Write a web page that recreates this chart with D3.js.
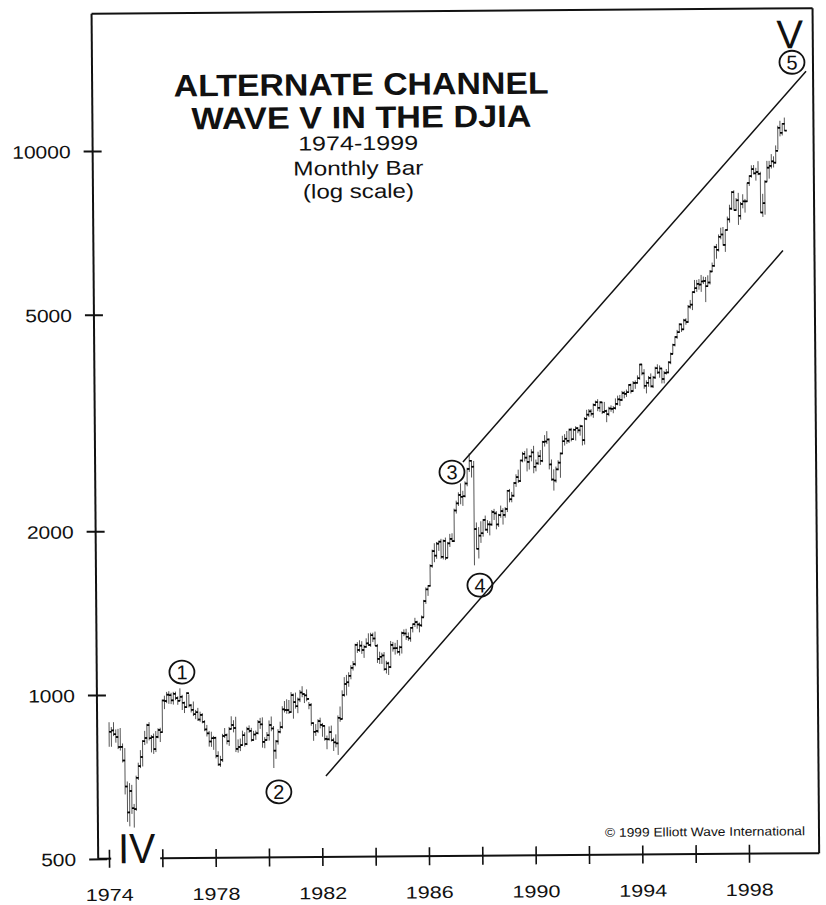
<!DOCTYPE html>
<html>
<head>
<meta charset="utf-8">
<script src="https://cdn.jsdelivr.net/npm/d3@7/dist/d3.min.js"></script>
<style>
  body { margin: 0; background: #fff; }
  svg { display: block; }
  text { font-family: "Liberation Sans", Arial, Helvetica, sans-serif; fill: #111; }
</style>
</head>
<body>
<svg id="chart" width="826" height="905"></svg>
<script>
// DJIA monthly bars, January 1974 onward
const startYear = 1974;

const monthClose = [
  855.55, 860.53, 846.68, 836.75, 802.17, 802.41, 757.43, 678.58, 607.87, 665.52, 618.66, 616.24,
  703.69, 739.05, 768.15, 821.34, 832.29, 878.99, 831.51, 835.34, 793.88, 836.04, 860.67, 852.41,
  975.28, 972.61, 999.45, 996.85, 975.23, 1002.78, 984.64, 973.74, 990.19, 964.93, 947.22, 1004.65,
  954.37, 936.42, 919.13, 926.90, 898.66, 916.30, 890.07, 861.49, 847.11, 818.35, 829.70, 831.17,
  769.92, 742.12, 757.36, 837.32, 840.61, 818.95, 862.27, 876.82, 865.82, 792.45, 799.03, 805.01,
  839.22, 808.82, 862.18, 854.90, 822.33, 841.98, 846.42, 887.63, 878.58, 815.70, 822.35, 838.74,
  875.85, 863.14, 785.75, 817.06, 850.85, 867.92, 935.32, 932.59, 932.42, 924.49, 993.34, 963.99,
  947.27, 974.58, 1003.87, 997.75, 991.75, 976.88, 952.34, 881.47, 849.98, 852.55, 888.98, 875.00,
  871.10, 824.39, 822.77, 848.36, 819.54, 811.93, 808.60, 901.31, 896.25, 991.72, 1039.28, 1046.54,
  1075.70, 1112.62, 1130.03, 1226.20, 1199.98, 1221.96, 1199.22, 1216.16, 1233.13, 1225.20, 1276.02, 1258.64,
  1220.58, 1154.63, 1164.89, 1170.75, 1104.85, 1132.40, 1115.28, 1224.38, 1206.71, 1207.38, 1188.94, 1211.57,
  1286.77, 1284.01, 1266.78, 1258.06, 1315.41, 1335.46, 1347.45, 1334.01, 1328.63, 1374.31, 1472.13, 1546.67,
  1570.99, 1709.06, 1818.61, 1783.98, 1876.71, 1892.72, 1775.31, 1898.34, 1767.58, 1877.81, 1914.23, 1895.95,
  2158.04, 2223.99, 2304.69, 2286.36, 2291.57, 2418.53, 2572.07, 2662.95, 2596.28, 1993.53, 1833.55, 1938.83,
  1958.22, 2071.62, 1988.06, 2032.33, 2031.12, 2141.71, 2128.73, 2031.65, 2112.91, 2148.65, 2114.51, 2168.57,
  2342.32, 2258.39, 2293.62, 2418.80, 2480.15, 2440.06, 2660.66, 2737.27, 2692.82, 2645.08, 2706.27, 2753.20,
  2590.54, 2627.25, 2707.21, 2656.76, 2876.66, 2880.69, 2905.20, 2614.36, 2452.48, 2442.33, 2559.65, 2633.66,
  2736.39, 2882.18, 2913.86, 2887.87, 3027.50, 2906.75, 3024.82, 3043.60, 3016.77, 3069.10, 2894.68, 3168.83,
  3223.39, 3267.67, 3235.47, 3359.12, 3396.88, 3318.52, 3393.78, 3257.35, 3271.66, 3226.28, 3305.16, 3301.11,
  3310.03, 3370.81, 3435.11, 3427.55, 3527.43, 3516.08, 3539.47, 3651.25, 3555.12, 3680.59, 3683.95, 3754.09,
  3978.36, 3832.02, 3635.96, 3681.69, 3758.37, 3624.96, 3764.50, 3913.42, 3843.19, 3908.12, 3739.23, 3834.44,
  3843.86, 4011.05, 4157.69, 4321.27, 4465.14, 4556.10, 4708.47, 4610.56, 4789.08, 4755.48, 5074.49, 5117.12,
  5395.30, 5485.62, 5587.14, 5569.08, 5643.18, 5654.63, 5528.91, 5616.21, 5882.17, 6029.38, 6521.70, 6448.27,
  6813.09, 6877.74, 6583.48, 7008.99, 7331.04, 7672.79, 8222.61, 7622.42, 7945.26, 7442.08, 7823.13, 7908.25,
  7906.50, 8545.72, 8799.81, 9063.37, 8899.95, 8952.02, 8883.29, 7539.07, 7842.62, 8592.10, 9116.55, 9181.43,
  9358.83, 9306.58, 9786.16, 10789.04, 10559.74, 10970.80, 10655.15
];

const monthHigh = [
  891, 873, 891, 864, 866, 869, 814, 798, 693, 688, 683, 630,
  710, 750, 791, 825, 858, 884, 890, 843, 848, 857, 867, 869,
  979, 995, 1011, 1014, 1007, 1011, 1012, 992, 1026, 998, 970, 1009,
  1000, 960, 970, 936, 944, 929, 923, 896, 878, 856, 853, 838,
  835, 785, 770, 845, 866, 846, 870, 910, 895, 908, 825, 828,
  856, 850, 870, 875, 866, 855, 856, 895, 903, 905, 832, 850,
  893, 908, 872, 822, 860, 888, 948, 969, 976, 973, 1006, 1000,
  1004, 983, 1015, 1031, 1000, 1017, 964, 960, 884, 878, 896, 902,
  882, 873, 836, 869, 872, 828, 840, 910, 945, 1012, 1070, 1080,
  1092, 1125, 1145, 1232, 1240, 1250, 1245, 1226, 1260, 1287, 1290, 1290,
  1296, 1230, 1190, 1185, 1188, 1145, 1140, 1245, 1240, 1235, 1250, 1220,
  1295, 1307, 1310, 1290, 1320, 1340, 1372, 1355, 1345, 1385, 1480, 1560,
  1575, 1720, 1830, 1880, 1890, 1900, 1915, 1910, 1925, 1890, 1955, 1960,
  2175, 2250, 2330, 2420, 2345, 2440, 2585, 2747, 2665, 2660, 2050, 2010,
  2060, 2080, 2110, 2070, 2060, 2160, 2170, 2150, 2125, 2200, 2175, 2185,
  2350, 2360, 2330, 2430, 2510, 2560, 2670, 2760, 2770, 2800, 2720, 2790,
  2830, 2670, 2760, 2780, 2890, 2960, 3010, 2920, 2670, 2560, 2590, 2660,
  2750, 2950, 2970, 3010, 3040, 3050, 3040, 3070, 3060, 3090, 3080, 3190,
  3290, 3300, 3300, 3380, 3420, 3440, 3410, 3400, 3400, 3290, 3330, 3350,
  3340, 3450, 3490, 3500, 3560, 3560, 3580, 3660, 3670, 3710, 3720, 3800,
  3990, 3990, 3900, 3720, 3790, 3830, 3790, 3940, 3980, 3960, 3920, 3870,
  3900, 4030, 4180, 4340, 4480, 4600, 4730, 4720, 4820, 4830, 5110, 5220,
  5410, 5680, 5680, 5700, 5800, 5760, 5750, 5790, 5920, 6110, 6560, 6610,
  6880, 7080, 7100, 7020, 7420, 7800, 8260, 8290, 8020, 8200, 7890, 8150,
  7990, 8560, 8830, 9210, 9220, 9110, 9370, 8960, 8160, 8640, 9380, 9380,
  9650, 9560, 10010, 10880, 11110, 11000, 11260
];

const monthLow = [
  803, 803, 840, 817, 795, 790, 751, 656, 584, 573, 604, 570,
  612, 697, 733, 738, 808, 813, 824, 783, 778, 784, 831, 818,
  853, 940, 964, 961, 960, 958, 976, 957, 972, 936, 924, 944,
  946, 926, 912, 900, 893, 890, 884, 855, 836, 801, 800, 790,
  762, 738, 735, 750, 830, 808, 803, 862, 850, 782, 780, 785,
  805, 800, 805, 848, 817, 820, 823, 842, 862, 796, 794, 820,
  820, 853, 730, 759, 806, 845, 862, 923, 918, 917, 922, 899,
  938, 920, 964, 984, 960, 967, 935, 872, 818, 835, 845, 862,
  832, 818, 789, 818, 815, 783, 795, 770, 886, 896, 985, 990,
  1027, 1060, 1100, 1120, 1185, 1190, 1180, 1160, 1210, 1220, 1215, 1240,
  1220, 1135, 1130, 1130, 1098, 1085, 1078, 1110, 1190, 1175, 1180, 1170,
  1180, 1270, 1250, 1245, 1240, 1290, 1320, 1310, 1290, 1320, 1375, 1455,
  1505, 1565, 1695, 1735, 1760, 1820, 1760, 1755, 1750, 1765, 1850, 1890,
  1890, 2130, 2200, 2215, 2200, 2280, 2390, 2540, 2480, 1710, 1830, 1760,
  1880, 1930, 1980, 1960, 1940, 2020, 2070, 1990, 2010, 2090, 2030, 2090,
  2140, 2230, 2230, 2280, 2380, 2420, 2430, 2640, 2650, 2540, 2560, 2650,
  2520, 2540, 2610, 2610, 2640, 2820, 2850, 2560, 2440, 2340, 2420, 2550,
  2470, 2730, 2830, 2850, 2860, 2880, 2900, 2890, 2980, 2950, 2830, 2840,
  3150, 3190, 3200, 3180, 3340, 3270, 3260, 3230, 3240, 3120, 3200, 3260,
  3240, 3290, 3350, 3340, 3410, 3450, 3470, 3540, 3520, 3550, 3590, 3670,
  3730, 3800, 3590, 3520, 3620, 3610, 3600, 3740, 3820, 3760, 3670, 3670,
  3810, 3830, 3980, 4150, 4290, 4430, 4540, 4560, 4600, 4700, 4740, 5030,
  5000, 5370, 5400, 5450, 5400, 5580, 5170, 5520, 5570, 5870, 6000, 6210,
  6400, 6740, 6560, 6390, 7000, 7230, 7630, 7610, 7610, 7160, 7320, 7680,
  7540, 7890, 8440, 8740, 8860, 8630, 8830, 7520, 7400, 7470, 8590, 8700,
  9080, 9120, 9270, 9830, 10400, 10440, 10640
];

// Axis ticks and labels
const yTicks = [500, 1000, 2000, 5000, 10000];
const xTicks = [1974, 1976, 1978, 1980, 1982, 1984, 1986, 1988, 1990, 1992, 1994, 1996, 1998];
const xLabels = [1974, 1978, 1982, 1986, 1990, 1994, 1998];

// Channel lines (time, value)
const upperChannel = [[1987.39, 2649], [2000.37, 13694]];
const lowerChannel = [[1982.16, 704.5], [1999.45, 6413]];

// Circled wave counts (time, value)
const waveMarks = [
  { label: "1", t: 1976.79, v: 1099 },
  { label: "2", t: 1980.39, v: 660 },
  { label: "3", t: 1986.975, v: 2539 },
  { label: "4", t: 1987.99, v: 1572 },
  { label: "5", t: 1999.845, v: 14226 }
];

const titleLines = ["ALTERNATE CHANNEL", "WAVE V IN THE DJIA"];
const subLines = ["1974-1999", "Monthly Bar", "(log scale)"];

// ---- layout ----
const frame = { left: 95, right: 816, top: 11, bottom: 856 };
const x = d3.scaleLinear().domain([1974, 1998]).range([105.8, 745.8]);
const y = d3.scaleLog().domain([500, 10000]).range([856, 148.2]);

const svg = d3.select("#chart");
const root = svg.append("g").attr("transform", "rotate(-0.45 455 450)");

// bars
const bars = monthClose.map((c, i) => ({
  t: startYear + (i + 0.5) / 12,
  close: c, high: monthHigh[i], low: monthLow[i],
  open: i > 0 ? monthClose[i - 1] : null
}));

const barG = root.append("g");
barG.selectAll("line.range").data(bars).join("line")
  .attr("class", "range")
  .attr("x1", d => x(d.t)).attr("x2", d => x(d.t))
  .attr("y1", d => y(d.high)).attr("y2", d => y(d.low))
  .attr("stroke", "#444").attr("stroke-width", 0.9);
barG.selectAll("line.open").data(bars.filter(d => d.open !== null)).join("line")
  .attr("class", "open")
  .attr("x1", d => x(d.t) - 2).attr("x2", d => x(d.t))
  .attr("y1", d => y(d.open)).attr("y2", d => y(d.open))
  .attr("stroke", "#111").attr("stroke-width", 1.4);
barG.selectAll("line.close").data(bars).join("line")
  .attr("class", "close")
  .attr("x1", d => x(d.t)).attr("x2", d => x(d.t) + 2.4)
  .attr("y1", d => y(d.close)).attr("y2", d => y(d.close))
  .attr("stroke", "#000").attr("stroke-width", 1.6);

// channel
const line = d3.line().x(d => x(d[0])).y(d => y(d[1]));
[upperChannel, lowerChannel].forEach(ch => {
  root.append("path").attr("d", line(ch))
    .attr("fill", "none").attr("stroke", "#111").attr("stroke-width", 1.5);
});

// frame
const frameG = root.append("g").attr("stroke", "#111").attr("stroke-width", 2).attr("fill", "none");
frameG.append("line").attr("x1", frame.left).attr("x2", frame.right).attr("y1", frame.top).attr("y2", frame.top);
frameG.append("line").attr("x1", frame.right).attr("x2", frame.right).attr("y1", frame.top).attr("y2", frame.bottom);
frameG.append("line").attr("x1", frame.left).attr("x2", frame.left).attr("y1", frame.top).attr("y2", frame.bottom);
frameG.append("line").attr("x1", frame.left).attr("x2", frame.right).attr("y1", frame.bottom).attr("y2", frame.bottom);

// gap in the base line for the IV label
root.append("rect").attr("x", 108).attr("y", frame.bottom - 3).attr("width", 49).attr("height", 6).attr("fill", "#fff");

// y axis
const yAxis = root.append("g").attr("transform", `translate(${frame.left},0)`)
  .call(d3.axisLeft(y).tickValues(yTicks).tickFormat(d3.format("d")).tickSize(0));
yAxis.select(".domain").remove();
yAxis.selectAll(".tick line").attr("x1", -9).attr("x2", 9)
  .attr("stroke", "#111").attr("stroke-width", 2);
yAxis.selectAll(".tick text")
  .attr("x", -22).attr("dy", "0.36em")
  .attr("font-size", 18).attr("fill", "#111")
  .style("font-family", '"Liberation Sans", Arial, sans-serif')
  .attr("textLength", d => String(d).length * 11.7)
  .attr("lengthAdjust", "spacingAndGlyphs");

// x axis
const xAxis = root.append("g").attr("transform", `translate(0,${frame.bottom})`)
  .call(d3.axisBottom(x).tickValues(xTicks)
    .tickFormat(d => xLabels.includes(d) ? String(d) : "").tickSize(0));
xAxis.select(".domain").remove();
xAxis.selectAll(".tick line").attr("y1", -9).attr("y2", 9)
  .attr("stroke", "#111").attr("stroke-width", 1.6);
xAxis.selectAll(".tick text")
  .attr("y", 42).attr("dy", null)
  .attr("font-size", 17).attr("fill", "#111")
  .style("font-family", '"Liberation Sans", Arial, sans-serif')
  .attr("textLength", d => xLabels.includes(d) ? 48 : null)
  .attr("lengthAdjust", "spacingAndGlyphs");

// wave labels
const waveG = root.append("g");
waveMarks.forEach(w => {
  const cx = x(w.t), cy = y(w.v);
  waveG.append("ellipse").attr("cx", cx).attr("cy", cy).attr("rx", 12.5).attr("ry", 11.5)
    .attr("fill", "none").attr("stroke", "#111").attr("stroke-width", 1.8);
  waveG.append("text").attr("x", cx).attr("y", cy).attr("dy", "0.36em")
    .attr("text-anchor", "middle").attr("font-size", 20).text(w.label);
});
const fifth = waveMarks[4];
root.append("text").attr("x", x(fifth.t) - 2).attr("y", y(fifth.v) - 14)
  .attr("text-anchor", "middle").attr("font-size", 40).text("V");
root.append("text").attr("x", x(1975.04)).attr("y", y(500) + 4.5)
  .attr("text-anchor", "middle").attr("font-size", 42)
  .attr("textLength", 37).attr("lengthAdjust", "spacingAndGlyphs").text("IV");

// title block
const titleWidths = [375, 340];
const titleBase = [94.3, 127.3];
titleLines.forEach((s, i) => {
  root.append("text").attr("x", 364).attr("y", titleBase[i])
    .attr("text-anchor", "middle").attr("font-size", 31).attr("font-weight", "bold")
    .attr("textLength", titleWidths[i]).attr("lengthAdjust", "spacingAndGlyphs").text(s);
});
const subWidths = [120, 130, 111];
const subBase = [149.3, 174.3, 197.3];
subLines.forEach((s, i) => {
  root.append("text").attr("x", 360.5).attr("y", subBase[i])
    .attr("text-anchor", "middle").attr("font-size", 20)
    .attr("textLength", subWidths[i]).attr("lengthAdjust", "spacingAndGlyphs").text(s);
});

// credit line
root.append("text").attr("x", 602).attr("y", 838).attr("font-size", 12.5)
  .attr("textLength", 200).attr("lengthAdjust", "spacingAndGlyphs")
  .text("\u00A9 1999 Elliott Wave International");
</script>
</body>
</html>
